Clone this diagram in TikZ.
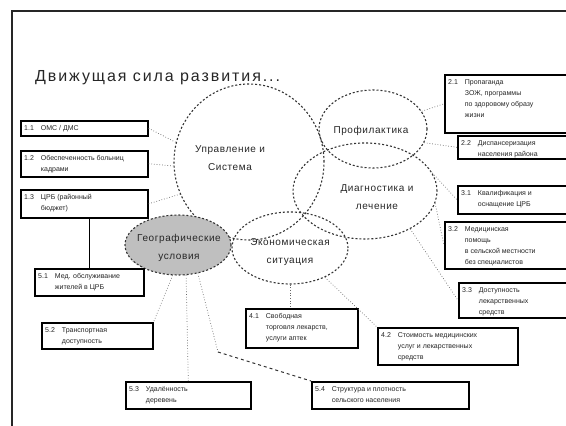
\documentclass[tikz,border=0pt]{standalone}
\usepackage{fontspec}
\setmainfont{Liberation Sans}
\newfontfamily\titlefont[LetterSpace=12]{Liberation Sans}
\newfontfamily\circfont[LetterSpace=6]{Liberation Sans}
\usetikzlibrary{shapes.geometric}

\tikzset{
  frameline/.style={line width=1.5pt, black!85},
  circ/.style={ellipse, draw=black!80, line width=1.1pt, dash pattern=on 2pt off 2pt, inner sep=0pt},
  circtext/.style={font=\circfont\fontsize{10}{18}\selectfont, align=center, text=black!85, inner sep=0pt},
  infobox/.style={draw=black, line width=1.6pt, fill=white, anchor=north west, inner sep=0pt},
  boxtext/.style={anchor=north west, inner sep=0pt, font=\fontsize{7}{11}\selectfont, text=black!85},
  dotcon/.style={black!60, line width=0.7pt, dotted},
  dashcon/.style={black!80, line width=1pt, dash pattern=on 3pt off 3pt},
  solidcon/.style={black, line width=1pt},
}

\newcommand\ibox[6]{%
  \node[infobox, minimum width={#4pt-#2pt}, minimum height={#5pt-#3pt}] (#1) at (#2,#3) {};
  \node[boxtext] (#1-t) at ([shift={(4,3)}]#1.north west)
    {\begin{tabular}{@{}l@{\hspace{7pt}}l@{}}#6\end{tabular}};
}

\begin{document}
\begin{tikzpicture}[x=1pt,y=-1pt]
\useasboundingbox (0,0) rectangle (566,426);
\clip (0,0) rectangle (566,426);

% frame
\coordinate (fTL) at (12,11);
\coordinate (fBL) at (12,426);
\coordinate (fTR) at (566,11);
\draw[frameline] (fBL) -- (fTL) -- (fTR);

% title
\node[anchor=base west, inner sep=0pt, font=\titlefont\fontsize{16}{18}\selectfont, text=black!85] (title) at (35,81) {Движущая сила развития...};

% circles
\node[circ, minimum width=150pt, minimum height=156pt] (upr) at (249,162) {};
\node[circ, minimum width=108pt, minimum height=78pt] (prof) at (373,129) {};
\node[circ, minimum width=144pt, minimum height=96pt] (diag) at (365,191) {};
\node[circ, minimum width=116pt, minimum height=72pt] (eco) at (290,248) {};
\node[circ, fill=black!25, minimum width=106pt, minimum height=60pt] (geo) at (178,245) {};

\node[circtext] (upr-t) at (230,158) {Управление и\\Система};
\node[circtext] (prof-t) at (371,131) {Профилактика};
\node[circtext] (diag-t) at (377,197) {Диагностика и\\лечение};
\node[circtext] (eco-t) at (290,252) {Экономическая\\ситуация};
\node[circtext] (geo-t) at (179,248) {Географические\\условия};

% boxes
\ibox{b11}{20}{120}{147}{135}{1.1 & ОМС / ДМС}
\ibox{b12}{20}{150}{147}{176}{1.2 & Обеспеченность больниц\\ & кадрами}
\ibox{b13}{20}{189}{147}{217}{1.3 & ЦРБ (районный\\ & бюджет)}
\ibox{b51}{34}{268}{143}{295}{5.1 & Мед. обслуживание\\ & жителей в ЦРБ}
\ibox{b52}{41}{322}{152}{348}{5.2 & Транспортная\\ & доступность}
\ibox{b53}{125}{381}{250}{408}{5.3 & Удалённость\\ & деревень}
\ibox{b54}{311}{381}{468}{408}{5.4 & Структура и плотность\\ & сельского населения}
\ibox{b41}{245}{308}{357}{347}{4.1 & Свободная\\ & торговля лекарств,\\ & услуги аптек}
\ibox{b42}{377}{327}{517}{364}{4.2 & Стоимость медицинских\\ & услуг и лекарственных\\ & средств}
\ibox{b21}{444}{74}{575}{132}{2.1 & Пропаганда\\ & ЗОЖ, программы\\ & по здоровому образу\\ & жизни}
\ibox{b22}{457}{135}{575}{158}{2.2 & Диспансеризация\\ & населения района}
\ibox{b31}{457}{185}{575}{213}{3.1 & Квалификация и\\ & оснащение ЦРБ}
\ibox{b32}{444}{221}{575}{268}{3.2 & Медицинская\\ & помощь\\ & в сельской местности\\ & без специалистов}
\ibox{b33}{458}{282}{575}{317}{3.3 & Доступность\\ & лекарственных\\ & средств}

% connectors
\draw[dotcon] (b11.east) -- (upr.165);
\draw[dotcon] (b12.east) -- (upr.183);
\draw[dotcon] (b13.east) -- (upr.205);
\draw[solidcon] (b13.south -| b51.north) -- (b51.north);
\draw[dotcon] (prof.20) -- (b21.west);
\draw[dotcon] (prof.-15) -- (b22.west);
\draw[dotcon] (diag.15) -- (b31.west);
\draw[dotcon] (diag.-10) -- (b32.west);
\draw[dotcon] (diag.-40) -- (b33.west);
\draw[dotcon] (eco.south) -- (eco.south |- b41.north);
\draw[dotcon] (eco.-40) -- (b42.north west);
\draw[dotcon] (geo.200) -- (b51.north east);
\draw[dotcon] (geo.-100) -- (b52.north east);
\draw[dotcon] (geo.-75) -- (b53.north);
\coordinate (bend) at (218,352);
\draw[dotcon] (geo.-55) -- (bend);
\draw[dashcon] (bend) -- (b54.north west);
\end{tikzpicture}
\end{document}
